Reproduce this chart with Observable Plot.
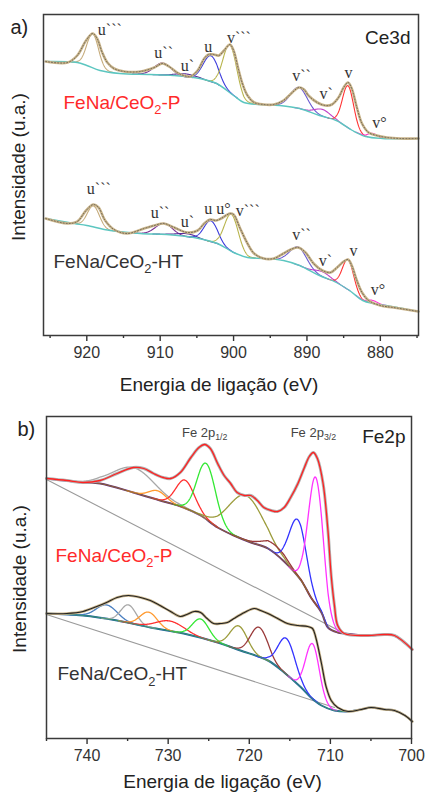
<!DOCTYPE html>
<html><head><meta charset="utf-8">
<script src="https://cdn.jsdelivr.net/npm/d3@7"></script>
<script src="https://cdn.jsdelivr.net/npm/@observablehq/plot@0.6"></script>
<style>
body{margin:0;background:#fff;}
#chart{width:425px;}
#chart svg{display:block;}
</style>
</head><body><div id="chart"></div>
<script>
// ---------- Panel a) Ce3d : [binding energy (eV), intensity (a.u.)] ----------
const majorA = [920, 910, 900, 890, 880];
const minorA = [925, 915, 905, 895, 885, 875];

const ceP_env = [[925.6,274],[922.6,273],[921.3,280],[920.1,295],[919.2,302],[918.6,297],[917.9,283],[917.2,273],[916.3,267],[914.9,264],[912.7,264],[910.8,268],[909.7,272],[908.8,269],[907.7,263],[906.8,260],[905.9,259],[904.9,265],[904.0,277],[903.4,281],[902.7,281],[902.0,280],[901.3,285],[900.5,291],[900.0,285],[899.4,268],[898.8,252],[898.1,240],[897.2,233],[895.9,231],[894.5,231],[893.2,235],[892.0,243],[891.1,248],[890.4,246],[889.8,240],[888.6,233],[887.5,230],[886.6,231],[885.7,238],[885.0,248],[884.4,253],[883.9,247],[883.2,228],[882.5,212],[881.6,203],[880.5,200],[879.1,198],[877.3,197],[874.8,197]];
const ceP_bg = [[925.6,274],[921.3,273],[920.0,270],[918.2,265],[915.5,262],[911.4,261],[908.2,260],[904.6,257],[902.3,252],[900.0,240],[898.6,233],[896.4,231],[893.7,230],[891.0,227],[888.3,220],[886.0,215],[883.8,205],[882.0,199],[879.7,197],[874.8,197]];
const ceP_peaks = [
  {peak:"u'''", center:919.2, height:34, fwhm:1.9},
  {peak:"u''",  center:909.7, height:12, fwhm:2.7},
  {peak:"u'",   center:906.5, height:3,  fwhm:3.0},
  {peak:"u",    center:903.1, height:26, fwhm:2.4},
  {peak:"v'''", center:900.5, height:48, fwhm:2.2},
  {peak:"v''",  center:891.1, height:21, fwhm:2.7},
  {peak:"v'",   center:887.9, height:7,  fwhm:2.5},
  {peak:"v",    center:884.4, height:42, fwhm:1.8},
  {peak:"v0",   center:881.1, height:4,  fwhm:1.5}
];
const ceP_labels = [["u```",918.5,301],["u``",910.8,278],["u`",907.2,265],["u",904.0,284],["v```",900.9,293],["v``",892.0,255],["v`",888.3,237],["v",884.9,258],["v°",881.1,208]];

const ceHT_env = [[925.6,117],[922.6,112],[921.3,114],[920.1,125],[919.1,131],[918.4,128],[917.5,115],[916.3,106],[914.5,102],[912.2,107],[910.8,110],[909.5,112],[908.1,108],[906.3,103],[904.9,105],[904.0,112],[903.2,116],[902.4,115],[901.7,117],[900.5,122],[900.0,121],[899.1,107],[898.1,92],[897.2,82],[895.9,77],[894.5,77],[893.2,82],[892.2,86],[891.2,88],[890.2,83],[889.1,72],[887.9,65],[886.8,63],[885.9,68],[885.0,74],[884.4,76],[883.9,70],[883.2,55],[882.5,43],[881.6,35],[880.0,30],[878.2,28],[874.8,24]];
const ceHT_bg = [[925.6,117],[921.7,112],[920.0,110],[916.8,105],[912.7,102],[909.1,101],[905.4,98],[902.2,92],[900.0,83],[898.1,78],[895.9,77],[893.2,75],[891.0,70],[888.3,60],[886.0,53],[884.2,45],[882.4,35],[881.0,32],[879.2,30],[874.8,24]];
const ceHT_peaks = [
  {peak:"u'''", center:919.1, height:21, fwhm:1.9},
  {peak:"u''",  center:909.5, height:11, fwhm:2.7},
  {peak:"u'",   center:906.5, height:3,  fwhm:3.0},
  {peak:"u",    center:903.1, height:21, fwhm:2.2},
  {peak:"v'''", center:900.3, height:37, fwhm:2.2},
  {peak:"v''",  center:891.2, height:18, fwhm:2.7},
  {peak:"v'",   center:887.9, height:5,  fwhm:2.5},
  {peak:"v",    center:884.4, height:30, fwhm:1.8},
  {peak:"v0",   center:881.1, height:3,  fwhm:1.5}
];
const ceHT_labels = [["u```",920.0,142],["u``",911.3,118],["u`",907.2,109],["u u°",904.0,122],["v```",899.7,120],["v``",892.0,96],["v`",888.4,70],["v",884.2,80],["v°",881.3,41]];

// ---------- Panel b) Fe2p ----------
const majorB = [740, 730, 720, 710, 700];
const minorB = [745, 735, 725, 715, 705];

const feP_env = [[745.0,260],[742.5,258],[740.5,256],[738.4,258],[736.3,265],[734.3,271],[733.0,270],[731.8,265],[730.6,261],[729.7,260],[728.5,266],[727.2,281],[726.2,291],[725.5,294],[724.8,290],[723.9,275],[723.1,263],[722.3,255],[721.5,246],[720.6,243],[719.8,243],[719.0,238],[718.2,231],[717.3,228],[716.5,227],[715.7,231],[714.9,241],[714.0,255],[713.2,271],[712.6,282],[712.1,286],[711.6,280],[710.9,255],[710.3,208],[709.9,163],[709.5,133],[709.1,113],[708.3,105],[705.4,103],[703.3,104],[702.1,103],[699.9,89]];
const feP_bg = [[745.0,260],[740.5,256],[738.4,255],[734.3,246],[731.0,238],[728.1,231],[726.0,223],[723.9,211],[721.9,203],[719.8,196],[717.7,190],[715.7,177],[713.6,158],[712.4,141],[711.1,126],[710.3,111],[709.1,106],[708.3,105],[705.4,103],[703.3,104],[702.1,103],[699.9,89]];
const feP_lin = [[745.0,259],[708.5,106]];
const feP_peaks = [
  {peak:"gray",    center:734.2, height:25,  fwhm:6.0},
  {peak:"orange",  center:731.3, height:9,   fwhm:2.5},
  {peak:"red",     center:727.9, height:28,  fwhm:2.7},
  {peak:"green",   center:725.3, height:56,  fwhm:2.7},
  {peak:"olive",   center:720.4, height:45,  fwhm:5.0},
  {peak:"brown",   center:716.9, height:9,   fwhm:3.5},
  {peak:"blue",    center:714.0, height:57,  fwhm:2.5},
  {peak:"magenta", center:711.8, height:127, fwhm:2.2}
];

const feHT_env = [[745.0,125],[742.5,125],[740.5,127],[738.8,132],[737.6,136],[736.3,141],[734.9,143],[733.4,141],[732.2,138],[731.0,133],[729.7,127],[728.5,122],[727.7,124],[726.8,127],[726.0,126],[725.2,120],[724.4,115],[723.5,115],[722.7,116],[721.9,120],[720.6,126],[719.4,130],[718.6,128],[717.7,125],[716.5,120],[715.3,115],[714.0,113],[712.8,112],[712.2,110],[711.8,101],[711.1,75],[710.5,51],[709.9,38],[709.1,31],[707.8,27],[706.2,29],[705.0,31],[703.3,29],[702.1,28],[700.8,23],[699.9,17]];
const feHT_bg = [[745.0,125],[740.5,123],[736.3,118],[732.2,111],[728.1,105],[723.9,96],[721.1,88],[717.7,78],[715.7,66],[713.6,51],[712.4,41],[711.1,33],[709.5,28],[707.8,27],[706.2,29],[705.0,31],[703.3,29],[702.1,28],[700.8,23],[699.9,17]];
const feHT_lin = [[745.0,124],[709.5,31]];
const feHT_peaks = [
  {peak:"steel",   center:737.6, height:14, fwhm:3.0},
  {peak:"gray",    center:734.9, height:18, fwhm:2.2},
  {peak:"orange",  center:732.4, height:15, fwhm:2.5},
  {peak:"red",     center:729.8, height:10, fwhm:4.0},
  {peak:"green",   center:726.0, height:19, fwhm:2.4},
  {peak:"olive",   center:721.3, height:24, fwhm:2.5},
  {peak:"brown",   center:718.8, height:30, fwhm:2.5},
  {peak:"blue",    center:715.4, height:36, fwhm:2.5},
  {peak:"magenta", center:712.2, height:55, fwhm:2.0}
];
const feLabels = [["Fe 2p{1/2}",728.3,302],["Fe 2p{3/2}",714.9,302]];

// ---------- styles ----------
const ceColors = {"u'''":"#c6ac7c","u''":"#7b3294","u'":"#5b2c9a","u":"#3c3cdc","v'''":"#b8b44c","v''":"#6a5ad0","v'":"#c040c8","v":"#ff3333","v0":"#ff33cc"};
const feColors = {steel:"#4a7fc0",gray:"#a8a8a8",orange:"#ff9a30",red:"#ff3030",green:"#33e833",olive:"#9c9c3c",brown:"#9a3a3a",blue:"#3333ff",magenta:"#ff33ff"};
const FONT = "'Liberation Sans', Arial, sans-serif";
const SERIF = "'Liberation Serif', 'Times New Roman', serif";

// background value at an energy, from the digitised background
function bgAt(bg, E) {
  for (let i = 0; i < bg.length - 1; i++) {
    const [e0, y0] = bg[i], [e1, y1] = bg[i + 1];
    if (E <= e0 && E >= e1) return y0 + (y1 - y0) * (e0 - E) / (e0 - e1);
  }
  return E > bg[0][0] ? bg[0][1] : bg[bg.length - 1][1];
}
// fitted component peak (Gaussian with the read centre/height/FWHM) on top of the background
function components(peaks, bg) {
  const rows = [];
  for (const p of peaks) {
    const lo = p.center - 1.5 * p.fwhm, hi = p.center + 1.5 * p.fwhm;
    for (let E = hi; E >= lo; E -= 0.05) {
      rows.push({peak: p.peak, E, I: bgAt(bg, E) + p.height * Math.exp(-4 * Math.LN2 * (E - p.center) ** 2 / (p.fwhm * p.fwhm))});
    }
  }
  return rows;
}

const px = d => d[0], py = d => d[1];

function subify(svg) {
  d3.select(svg).selectAll("text").each(function () {
    const t = this.textContent;
    if (!t.includes("{")) return;
    const fs = parseFloat(getComputedStyle(this).fontSize) || 16;
    const shift = (fs * 0.3).toFixed(1);
    const parts = t.split(/(\{[^}]*\})/).filter(s => s.length);
    this.textContent = "";
    let down = false;
    for (const part of parts) {
      const ts = document.createElementNS("http://www.w3.org/2000/svg", "tspan");
      if (part.startsWith("{")) {
        ts.textContent = part.slice(1, -1);
        ts.setAttribute("font-size", (fs * 0.68).toFixed(1));
        ts.setAttribute("dy", shift);
        down = true;
      } else {
        ts.textContent = part;
        if (down) { ts.setAttribute("dy", -shift); down = false; }
      }
      this.appendChild(ts);
    }
  });
}

// ---------- Panel a ----------
const plotA = Plot.plot({
  width: 425, height: 396,
  marginLeft: 43, marginRight: 7, marginTop: 14, marginBottom: 61,
  x: {domain: [925.9, 874.8]},
  y: {domain: [0, 321], axis: null},
  color: {type: "identity"},
  style: {fontFamily: FONT, background: "#fff", color: "#333"},
  marks: [
    Plot.axisX({ticks: majorA, tickSize: 6, tickPadding: 5, tickFormat: d => String(d), label: null, fontSize: 16, strokeWidth: 1.4}),
    Plot.axisX({ticks: minorA, tickSize: 3, tickFormat: () => "", label: null, strokeWidth: 1.4}),
    // P spectrum
    Plot.line(components(ceP_peaks, ceP_bg), {x: "E", y: "I", z: "peak", stroke: d => ceColors[d.peak], strokeWidth: 1.1}),
    Plot.line(ceP_bg, {x: px, y: py, stroke: "#5cc6c0", strokeWidth: 1.4, curve: "catmull-rom"}),
    Plot.line(ceP_env, {x: px, y: py, stroke: "#c9b48a", strokeWidth: 2.6, curve: "catmull-rom"}),
    Plot.line(ceP_env, {x: px, y: py, stroke: "#333", strokeWidth: 0.9, strokeDasharray: "1,2", strokeOpacity: 0.65, curve: "catmull-rom"}),
    // HT spectrum
    Plot.line(components(ceHT_peaks, ceHT_bg), {x: "E", y: "I", z: "peak", stroke: d => ceColors[d.peak], strokeWidth: 1.1}),
    Plot.line(ceHT_bg, {x: px, y: py, stroke: "#5cc6c0", strokeWidth: 1.4, curve: "catmull-rom"}),
    Plot.line(ceHT_env, {x: px, y: py, stroke: "#c9b48a", strokeWidth: 2.6, curve: "catmull-rom"}),
    Plot.line(ceHT_env, {x: px, y: py, stroke: "#333", strokeWidth: 0.9, strokeDasharray: "1,2", strokeOpacity: 0.65, curve: "catmull-rom"}),
    // peak labels
    Plot.text(ceP_labels, {x: d => d[1], y: d => d[2], text: d => d[0], textAnchor: "start", lineAnchor: "bottom", fontFamily: SERIF, fontSize: 16, fill: "#333"}),
    Plot.text(ceHT_labels, {x: d => d[1], y: d => d[2], text: d => d[0], textAnchor: "start", lineAnchor: "bottom", fontFamily: SERIF, fontSize: 16, fill: "#333"}),
    Plot.frame({stroke: "#3a3a3a", strokeWidth: 1.5}),
    Plot.text(["a)"], {text: d => d, frameAnchor: "top-left", dx: -33, dy: 13, textAnchor: "start", lineAnchor: "middle", fontSize: 20, fill: "#222"}),
    Plot.text(["Ce3d"], {text: d => d, frameAnchor: "top-right", dx: -8, dy: 23, textAnchor: "end", lineAnchor: "middle", fontSize: 19, fill: "#222"}),
    Plot.text(["FeNa/CeO{2}-P"], {text: d => d, frameAnchor: "top-left", dx: 20, dy: 88, textAnchor: "start", lineAnchor: "middle", fontSize: 19, fill: "#ff2a2a"}),
    Plot.text(["FeNa/CeO{2}-HT"], {text: d => d, frameAnchor: "top-left", dx: 10, dy: 247, textAnchor: "start", lineAnchor: "middle", fontSize: 19, fill: "#333"}),
    Plot.text(["Intensidade (u.a.)"], {text: d => d, frameAnchor: "left", rotate: -90, dx: -25, dy: -8, textAnchor: "middle", lineAnchor: "middle", fontSize: 19, fill: "#222"}),
    Plot.text(["Energia de ligação (eV)"], {text: d => d, frameAnchor: "bottom", dx: -12, dy: 49, textAnchor: "middle", lineAnchor: "middle", fontSize: 19, fill: "#222"})
  ]
});

// ---------- Panel b ----------
const plotB = Plot.plot({
  width: 425, height: 396,
  marginLeft: 46, marginRight: 14, marginTop: 20, marginBottom: 54,
  x: {domain: [745, 700]},
  y: {domain: [0, 322], axis: null},
  color: {type: "identity"},
  style: {fontFamily: FONT, background: "#fff", color: "#333"},
  marks: [
    Plot.axisX({ticks: majorB, tickSize: 6, tickPadding: 5, tickFormat: d => String(d), label: null, fontSize: 16, strokeWidth: 1.4}),
    Plot.axisX({ticks: minorB, tickSize: 3, tickFormat: () => "", label: null, strokeWidth: 1.4}),
    // P spectrum
    Plot.line(feP_lin, {x: px, y: py, stroke: "#9a9a9a", strokeWidth: 1.1}),
    Plot.line(feP_bg, {x: px, y: py, stroke: "#6b2f80", strokeWidth: 2, curve: "catmull-rom"}),
    Plot.line(components(feP_peaks, feP_bg), {x: "E", y: "I", z: "peak", stroke: d => feColors[d.peak], strokeWidth: 1.3}),
    Plot.line(feP_bg, {x: px, y: py, stroke: "#8a6a30", strokeWidth: 1, curve: "catmull-rom"}),
    Plot.line(feP_env, {x: px, y: py, stroke: "#b4b4b4", strokeWidth: 3, curve: "catmull-rom"}),
    Plot.line(feP_env, {x: px, y: py, stroke: "#ff2020", strokeWidth: 1.3, curve: "catmull-rom"}),
    // HT spectrum
    Plot.line(feHT_lin, {x: px, y: py, stroke: "#9a9a9a", strokeWidth: 1.1}),
    Plot.line(feHT_bg, {x: px, y: py, stroke: "#1f5fa0", strokeWidth: 2, curve: "catmull-rom"}),
    Plot.line(components(feHT_peaks, feHT_bg), {x: "E", y: "I", z: "peak", stroke: d => feColors[d.peak], strokeWidth: 1.3}),
    Plot.line(feHT_bg, {x: px, y: py, stroke: "#3a9a6a", strokeWidth: 0.9, curve: "catmull-rom"}),
    Plot.line(feHT_env, {x: px, y: py, stroke: "#c9b48a", strokeWidth: 2.6, curve: "catmull-rom"}),
    Plot.line(feHT_env, {x: px, y: py, stroke: "#222", strokeWidth: 1.1, curve: "catmull-rom"}),
    Plot.text(feLabels, {x: d => d[1], y: d => d[2], text: d => d[0], textAnchor: "start", lineAnchor: "bottom", fontSize: 13, fill: "#444"}),
    Plot.frame({stroke: "#3a3a3a", strokeWidth: 1.5}),
    Plot.text(["b)"], {text: d => d, frameAnchor: "top-left", dx: -29, dy: 13.5, textAnchor: "start", lineAnchor: "middle", fontSize: 20, fill: "#222"}),
    Plot.text(["Fe2p"], {text: d => d, frameAnchor: "top-right", dx: -6, dy: 20.5, textAnchor: "end", lineAnchor: "middle", fontSize: 19, fill: "#222"}),
    Plot.text(["FeNa/CeO{2}-P"], {text: d => d, frameAnchor: "top-left", dx: 9, dy: 139, textAnchor: "start", lineAnchor: "middle", fontSize: 19, fill: "#ff2a2a"}),
    Plot.text(["FeNa/CeO{2}-HT"], {text: d => d, frameAnchor: "top-left", dx: 11, dy: 257.5, textAnchor: "start", lineAnchor: "middle", fontSize: 19, fill: "#333"}),
    Plot.text(["Intensidade (u.a.)"], {text: d => d, frameAnchor: "left", rotate: -90, dx: -27, dy: 1.5, textAnchor: "middle", lineAnchor: "middle", fontSize: 19, fill: "#222"}),
    Plot.text(["Energia de ligação (eV)"], {text: d => d, frameAnchor: "bottom", dx: -6.5, dy: 43, textAnchor: "middle", lineAnchor: "middle", fontSize: 19, fill: "#222"})
  ]
});

const chart = document.getElementById("chart");
chart.appendChild(plotA);
chart.appendChild(plotB);
subify(plotA);
subify(plotB);
</script></body></html>
